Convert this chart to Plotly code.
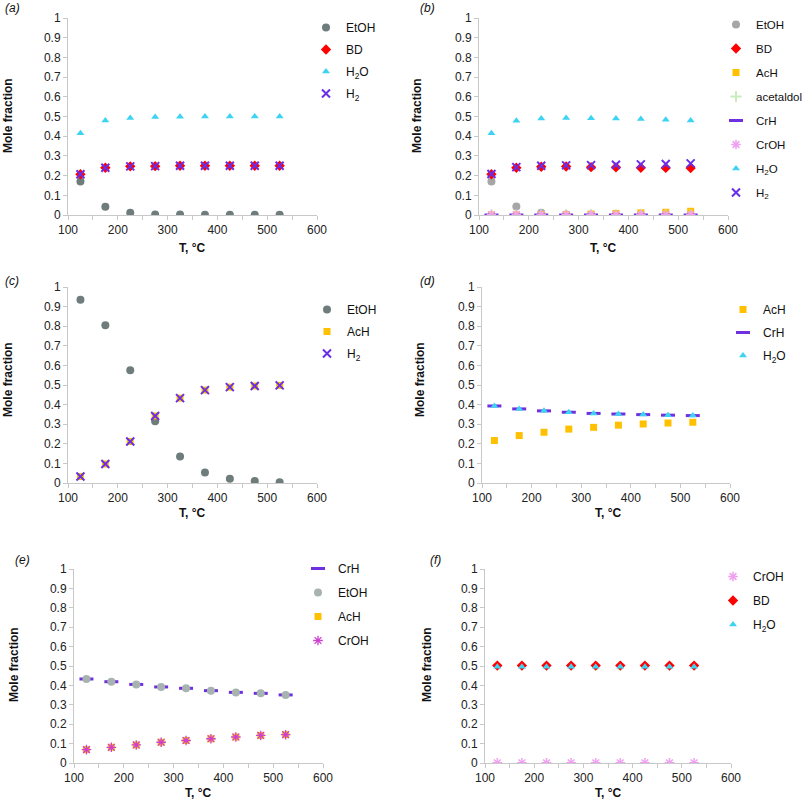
import plotly.graph_objects as go

T = [125, 175, 225, 275, 325, 375, 425, 475, 525]

# (a)
a_EtOH = [0.17, 0.042, 0.012, 0.003, 0.002, 0.001, 0.001, 0.001, 0.001]
a_BD = [0.207, 0.240, 0.247, 0.248, 0.250, 0.250, 0.250, 0.250, 0.250]
a_H2O = [0.415, 0.480, 0.493, 0.498, 0.499, 0.500, 0.500, 0.500, 0.500]
a_H2 = [0.207, 0.240, 0.247, 0.248, 0.250, 0.250, 0.250, 0.250, 0.250]

# (b)
b_EtOH = [0.17, 0.043, 0.012, 0.003, 0.001, 0.001, 0.001, 0.001, 0.001]
b_BD = [0.207, 0.240, 0.245, 0.246, 0.243, 0.242, 0.240, 0.239, 0.238]
b_AcH = [0.001, 0.001, 0.002, 0.003, 0.005, 0.008, 0.011, 0.014, 0.019]
b_acetaldol = [0.0, 0.0, 0.0, 0.0, 0.0, 0.0, 0.0, 0.0, 0.0]
b_CrH = [0.0, 0.0, 0.0, 0.0, 0.0, 0.0, 0.0, 0.0, 0.0]
b_CrOH = [0.002, 0.002, 0.002, 0.002, 0.002, 0.002, 0.002, 0.002, 0.002]
b_H2O = [0.415, 0.478, 0.490, 0.493, 0.491, 0.490, 0.487, 0.483, 0.480]
b_H2 = [0.208, 0.243, 0.250, 0.252, 0.253, 0.255, 0.257, 0.259, 0.262]

# (c)
c_EtOH = [0.935, 0.805, 0.575, 0.315, 0.135, 0.053, 0.022, 0.010, 0.004]
c_AcH = [0.033, 0.097, 0.212, 0.342, 0.433, 0.474, 0.489, 0.495, 0.498]
c_H2 = [0.033, 0.097, 0.212, 0.342, 0.433, 0.474, 0.489, 0.495, 0.498]

# (d)
d_AcH = [0.217, 0.242, 0.259, 0.275, 0.284, 0.295, 0.301, 0.306, 0.310]
d_CrH = [0.393, 0.378, 0.368, 0.361, 0.355, 0.352, 0.349, 0.346, 0.344]
d_H2O = [0.393, 0.378, 0.368, 0.361, 0.355, 0.352, 0.349, 0.346, 0.344]

# (e)
e_CrH = [0.433, 0.419, 0.405, 0.392, 0.385, 0.373, 0.364, 0.359, 0.351]
e_EtOH = [0.433, 0.419, 0.405, 0.392, 0.385, 0.373, 0.364, 0.359, 0.351]
e_AcH = [0.069, 0.081, 0.093, 0.107, 0.116, 0.125, 0.134, 0.142, 0.146]
e_CrOH = [0.069, 0.081, 0.093, 0.107, 0.116, 0.125, 0.134, 0.142, 0.146]

# (f)
f_CrOH = [0.001, 0.001, 0.001, 0.001, 0.001, 0.001, 0.001, 0.001, 0.001]
f_BD = [0.502, 0.502, 0.502, 0.502, 0.502, 0.502, 0.502, 0.502, 0.502]
f_H2O = [0.496, 0.496, 0.496, 0.496, 0.496, 0.496, 0.496, 0.496, 0.496]

W, H = 810, 801
FONT = "Liberation Sans, Arial, sans-serif"

STY = {
    "EtOH_dark": dict(symbol="circle", size=8, color="#6E7D7C"),
    "EtOH_gray": dict(symbol="circle", size=8, color="#A6A6A6"),
    "EtOH_light": dict(symbol="circle", size=8, color="#A7B3AF"),
    "BD": dict(symbol="diamond", size=8, color="#FF0000"),
    "H2O": dict(symbol="triangle-up", size=7, color="#3DD3F2"),
    "H2": dict(symbol="x-thin-open", size=8, color="#6A2EE8", line=dict(width=2, color="#6A2EE8")),
    "AcH": dict(symbol="square", size=7, color="#FFC000"),
    "acetaldol": dict(symbol="cross-thin-open", size=8, color="#C8EDB8", line=dict(width=2, color="#C8EDB8")),
    "CrH": dict(symbol="line-ew-open", size=10, color="#7030E0", line=dict(width=3, color="#7030E0")),
    "CrOH_pink": dict(symbol="asterisk-open", size=8, color="#F0A0F0", line=dict(width=1.5, color="#F0A0F0")),
    "CrOH_mag": dict(symbol="asterisk-open", size=8, color="#D040D0", line=dict(width=1.3, color="#D040D0")),
}

NAMES = {"H2O": "H<sub>2</sub>O", "H2": "H<sub>2</sub>"}

# panel geometry in pixels: (x0, x1, ytop(y=1), ybottom(y=0))
panels = [
    ("(a)", (68, 317, 18, 215), [("EtOH", "EtOH_dark", a_EtOH), ("BD", "BD", a_BD), ("H2O", "H2O", a_H2O), ("H2", "H2", a_H2)],
     (306, 13), 22, 12, (3, 8), (8, 116), (192, 248)),
    ("(b)", (479, 728, 18, 215), [("EtOH", "EtOH_gray", b_EtOH), ("BD", "BD", b_BD), ("AcH", "AcH", b_AcH),
                                  ("acetaldol", "acetaldol", b_acetaldol), ("CrH", "CrH", b_CrH),
                                  ("CrOH", "CrOH_pink", b_CrOH), ("H2O", "H2O", b_H2O), ("H2", "H2", b_H2)],
     (716, 10), 24, 11.5, (418, 8), (417, 116), (603, 248)),
    ("(c)", (68, 317, 287, 483), [("EtOH", "EtOH_dark", c_EtOH), ("AcH", "AcH", c_AcH), ("H2", "H2", c_H2)],
     (307, 295), 22, 12, (3, 281), (8, 380), (192, 513)),
    ("(d)", (482, 730, 287, 483), [("AcH", "AcH", d_AcH), ("CrH", "CrH", d_CrH), ("H2O", "H2O", d_H2O)],
     (723, 295), 23, 12, (418, 281), (420, 380), (608, 513)),
    ("(e)", (74, 323, 569, 763), [("CrH", "CrH", e_CrH), ("EtOH", "EtOH_light", e_EtOH), ("AcH", "AcH", e_AcH), ("CrOH", "CrOH_mag", e_CrOH)],
     (298, 554), 24, 12, (13, 560), (14, 665), (198, 793)),
    ("(f)", (485, 731, 569, 763), [("CrOH", "CrOH_pink", f_CrOH), ("BD", "BD", f_BD), ("H2O", "H2O", f_H2O)],
     (713, 562), 24, 12, (428, 560), (427, 665), (608, 793)),
]

fig = go.Figure()
annotations = []
layout = {}

for i, (lab, (x0, x1, yt, yb), series, (lx, ly), gap, lfs, (tx, ty), (ytx, yty), (xtx, xty)) in enumerate(panels):
    n = i + 1
    xa = "x" if n == 1 else f"x{n}"
    ya = "y" if n == 1 else f"y{n}"
    leg = "legend" if n == 1 else f"legend{n}"
    for name, sty, vals in series:
        s = dict(STY[sty])
        line = s.pop("line", None)
        m = dict(symbol=s["symbol"], size=s["size"], color=s["color"])
        m["line"] = line if line else dict(width=0)
        fig.add_trace(go.Scatter(x=T, y=vals, mode="markers", name=NAMES.get(name, name),
                                 marker=m, xaxis=xa, yaxis=ya, legend=leg,
                                 legendgroup=f"{lab}{name}", showlegend=True))
    axcommon = dict(showgrid=False, zeroline=False, showline=True, linecolor="#C8C8C8", linewidth=1,
                    ticks="outside", tickcolor="#C8C8C8", ticklen=4,
                    tickfont=dict(family=FONT, size=12, color="#222222"))
    layout["xaxis" if n == 1 else f"xaxis{n}"] = dict(
        axcommon, domain=[x0 / W, x1 / W], range=[100, 600], dtick=100, tick0=100,
        anchor=ya, minor=dict(dtick=50, ticks="outside", ticklen=4, tickcolor="#C8C8C8"))
    layout["yaxis" if n == 1 else f"yaxis{n}"] = dict(
        axcommon, domain=[1 - yb / H, 1 - yt / H], range=[0, 1], dtick=0.1, tick0=0, anchor=xa)
    layout[leg] = dict(x=lx / W, y=1 - ly / H, xanchor="left", yanchor="top",
                       bgcolor="rgba(0,0,0,0)", font=dict(family=FONT, size=lfs, color="#111111"),
                       tracegroupgap=gap - 19, itemsizing="trace")
    annotations.append(dict(text=f"<i>{lab}</i>", x=tx / W, y=1 - ty / H, xref="paper", yref="paper",
                            xanchor="left", yanchor="middle", showarrow=False,
                            font=dict(family=FONT, size=12, color="#111111")))
    annotations.append(dict(text="<b>Mole fraction</b>", x=ytx / W, y=1 - yty / H, xref="paper", yref="paper",
                            xanchor="center", yanchor="middle", textangle=-90, showarrow=False,
                            font=dict(family=FONT, size=12, color="#111111")))
    annotations.append(dict(text="<b>T, °C</b>", x=xtx / W, y=1 - xty / H, xref="paper", yref="paper",
                            xanchor="center", yanchor="middle", showarrow=False,
                            font=dict(family=FONT, size=12, color="#111111")))

fig.update_layout(width=W, height=H, margin=dict(l=0, r=0, t=0, b=0, autoexpand=False),
                  paper_bgcolor="white", plot_bgcolor="white", annotations=annotations,
                  font=dict(family=FONT), **layout)

fig.write_html("out.html", config={"displayModeBar": False},
               post_script="document.body.style.margin='0px';document.body.style.overflow='hidden';")
